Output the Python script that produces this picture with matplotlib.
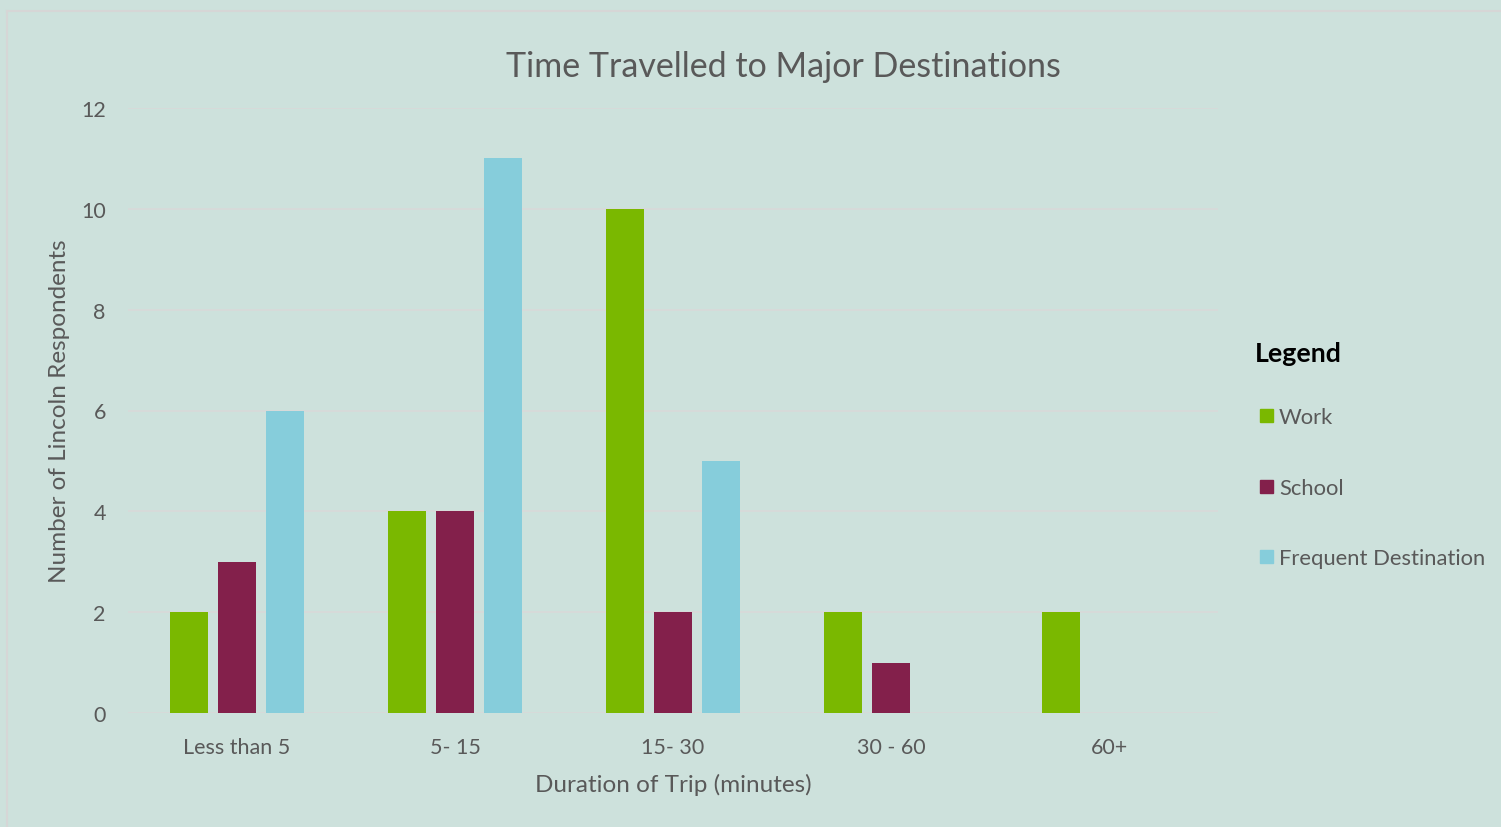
import matplotlib
matplotlib.use("Agg")
import matplotlib.pyplot as plt
from matplotlib.lines import Line2D
import numpy as np

categories = ["Less than 5", "5- 15", "15- 30", "30 - 60", "60+"]
work = [2, 4, 10, 2, 2]
school = [3, 4, 2, 1, 0]
frequent = [6, 11, 5, 0, 0]
series_names = ["Work", "School", "Frequent Destination"]
series_colors = ["#7AB800", "#83204B", "#86CDDB"]
yticks = [0, 2, 4, 6, 8, 10, 12]

BG = "#CDE1DC"
TXT = "#595959"
GRID = "#D9D9D9"

plt.rcParams["font.family"] = ["Lato", "DejaVu Sans"]

W, H = 1501, 828
fig = plt.figure(figsize=(W / 100, H / 100), dpi=100, facecolor=BG)

# plot area in pixel coordinates
left, right, top, bottom = 128, 1218, 109, 714
ax = fig.add_axes([left / W, 1 - bottom / H, (right - left) / W, (bottom - top) / H])
ax.set_facecolor(BG)

x = np.arange(len(categories))
bw = 0.174
step = 0.22
for i, (vals, col, name) in enumerate(zip([work, school, frequent], series_colors, series_names)):
    ax.bar(x + (i - 1) * step, vals, width=bw, color=col, label=name, zorder=3)

ax.set_xlim(-0.5, len(categories) - 0.5)
ax.set_ylim(0, 12)
ax.set_yticks(yticks)
ax.set_yticklabels([str(t) for t in yticks], fontsize=15.5, color=TXT)
ax.set_xticks(x)
ax.set_xticklabels(categories, fontsize=15.5, color=TXT)
ax.tick_params(axis="both", length=0)
ax.tick_params(axis="y", pad=16)
ax.tick_params(axis="x", pad=17)
ax.grid(axis="y", color=GRID, linewidth=1.2, zorder=0)
for s in ax.spines.values():
    s.set_visible(False)

ax.set_xlabel("Duration of Trip (minutes)", fontsize=17.5, color=TXT, labelpad=12)
ax.set_ylabel("Number of Lincoln Respondents", fontsize=17.5, color=TXT, labelpad=8)

fig.text(783 / W, 1 - 67 / H, "Time Travelled to Major Destinations",
         ha="center", va="center", fontsize=24.5, color=TXT)

# legend block on the right
fig.text(1255 / W, 1 - 354 / H, "Legend", ha="left", va="center",
         fontsize=19.3, fontweight="bold", color="black")
for name, col, yp in zip(series_names, series_colors, [416, 487, 557]):
    fig.patches.append(plt.Rectangle((1260 / W, 1 - (yp + 7) / H), 13 / W, 13 / H,
                                     transform=fig.transFigure, color=col, figure=fig))
    fig.text(1279 / W, 1 - (yp + 2) / H, name, ha="left", va="center", fontsize=15.8, color=TXT)

# outer frame (top and left edges)
fig.add_artist(Line2D([7 / W, 1], [1 - 12 / H, 1 - 12 / H], transform=fig.transFigure,
                      color="#D6D6D6", linewidth=1.5))
fig.add_artist(Line2D([7 / W, 7 / W], [0, 1 - 12 / H], transform=fig.transFigure,
                      color="#D6D6D6", linewidth=1.5))

fig.savefig("out.png", dpi=100, facecolor=BG)
